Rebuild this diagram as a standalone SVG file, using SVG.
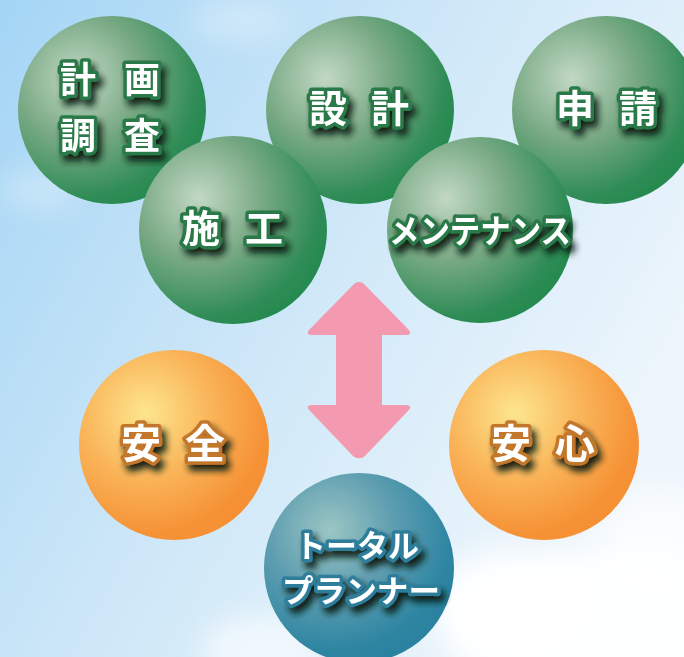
<svg xmlns="http://www.w3.org/2000/svg" width="684" height="657" viewBox="0 0 684 657">
<defs>
  <linearGradient id="sky" x1="0" y1="0" x2="1" y2="0.55">
    <stop offset="0" stop-color="#a4d5f5"/>
    <stop offset="0.5" stop-color="#cde7f8"/>
    <stop offset="1" stop-color="#eef6fc"/>
  </linearGradient>
  <radialGradient id="gGreen" cx="0.32" cy="0.33" r="0.75" fx="0.32" fy="0.33">
    <stop offset="0" stop-color="#c2d8c4"/>
    <stop offset="0.45" stop-color="#78a984"/>
    <stop offset="0.85" stop-color="#2f8c56"/>
    <stop offset="1" stop-color="#238a4e"/>
  </radialGradient>
  <radialGradient id="gOrange" cx="0.35" cy="0.33" r="0.75" fx="0.35" fy="0.33">
    <stop offset="0" stop-color="#fde68e"/>
    <stop offset="0.45" stop-color="#fab55a"/>
    <stop offset="0.85" stop-color="#f69236"/>
    <stop offset="1" stop-color="#f58f32"/>
  </radialGradient>
  <radialGradient id="gBlue" cx="0.35" cy="0.3" r="0.75" fx="0.35" fy="0.3">
    <stop offset="0" stop-color="#9cc6c4"/>
    <stop offset="0.45" stop-color="#5d9db0"/>
    <stop offset="0.85" stop-color="#2d85a2"/>
    <stop offset="1" stop-color="#2a82a0"/>
  </radialGradient>
  <filter id="shadow" x="-20%" y="-30%" width="150%" height="180%">
    <feGaussianBlur in="SourceAlpha" stdDeviation="3.5"/>
    <feOffset dx="4" dy="6" result="b"/>
    <feComponentTransfer in="b" result="c"><feFuncA type="linear" slope="0.95"/></feComponentTransfer>
    <feFlood flood-color="#0a1a10"/>
    <feComposite in2="c" operator="in"/>
    <feMerge><feMergeNode/><feMergeNode in="SourceGraphic"/></feMerge>
  </filter>
  <filter id="cloud" x="-30%" y="-30%" width="160%" height="160%">
    <feGaussianBlur stdDeviation="14"/>
  </filter>
</defs>
<style>
  .lbl { font-family: "Noto Sans CJK JP", "Noto Sans", sans-serif; font-weight: bold; fill: #ffffff; paint-order: stroke; stroke-linejoin: round; stroke-width: 7; text-anchor: middle; filter: url(#shadow); }
  .g .lbl { stroke: #2a7a48; }
  .o .lbl { stroke: #c2772c; }
  .b .lbl { stroke: #2e7e9b; }
</style>

<rect width="684" height="657" fill="url(#sky)"/>
<g filter="url(#cloud)" fill="#ffffff">
  <ellipse cx="600" cy="625" rx="160" ry="75" opacity="0.92"/>
  <ellipse cx="510" cy="600" rx="80" ry="50" opacity="0.85"/>
  <ellipse cx="660" cy="540" rx="60" ry="50" opacity="0.7"/>
  <ellipse cx="260" cy="650" rx="60" ry="35" opacity="0.6"/>
  <ellipse cx="40" cy="190" rx="40" ry="20" opacity="0.3"/>
  <ellipse cx="240" cy="20" rx="50" ry="20" opacity="0.3"/>
</g>

<g id="node-keikaku" class="g">
  <circle cx="112" cy="110" r="94" fill="url(#gGreen)"/>
  <text class="lbl" font-size="36" x="78 142" y="93">計画</text>
  <text class="lbl" font-size="36" x="78 142" y="149">調査</text>
</g>
<g id="node-sekkei" class="g">
  <circle cx="360" cy="110" r="94" fill="url(#gGreen)"/>
  <text class="lbl" font-size="38" x="328 390" y="122">設計</text>
</g>
<g id="node-shinsei" class="g">
  <circle cx="606" cy="110" r="94" fill="url(#gGreen)"/>
  <text class="lbl" font-size="38" x="575 638" y="122">申請</text>
</g>
<g id="node-seko" class="g">
  <circle cx="233" cy="230" r="94" fill="url(#gGreen)"/>
  <text class="lbl" font-size="38" x="201 264" y="242">施工</text>
</g>
<g id="node-maintenance" class="g">
  <circle cx="480" cy="230" r="93" fill="url(#gGreen)"/>
  <text class="lbl" font-size="33" x="480" y="243" textLength="182" lengthAdjust="spacingAndGlyphs">メンテナンス</text>
</g>

<g id="connectors">
  <path d="M359 282 C362 282 363 283 365 285 L408 329 C412 333 410 335 406 335 L382 335 L382 405 L406 405 C410 405 412 407 408 411 L365 456 C362 459 356 459 353 456 L310 411 C306 407 308 405 312 405 L336 405 L336 335 L312 335 C308 335 306 333 310 329 L353 285 C355 283 356 282 359 282 Z" fill="#f49ab0"/>
</g>

<g id="node-anzen" class="o">
  <circle cx="174" cy="445" r="95" fill="url(#gOrange)"/>
  <text class="lbl" font-size="40" x="141 205" y="458">安全</text>
</g>
<g id="node-anshin" class="o">
  <circle cx="544" cy="445" r="95" fill="url(#gOrange)"/>
  <text class="lbl" font-size="40" x="511 575" y="458">安心</text>
</g>
<g id="node-planner" class="b">
  <circle cx="359" cy="568" r="95" fill="url(#gBlue)"/>
  <text class="lbl" font-size="31" x="357" y="557" textLength="124" lengthAdjust="spacingAndGlyphs">トータル</text>
  <text class="lbl" font-size="31" x="361" y="602" textLength="158" lengthAdjust="spacingAndGlyphs">プランナー</text>
</g>
</svg>
